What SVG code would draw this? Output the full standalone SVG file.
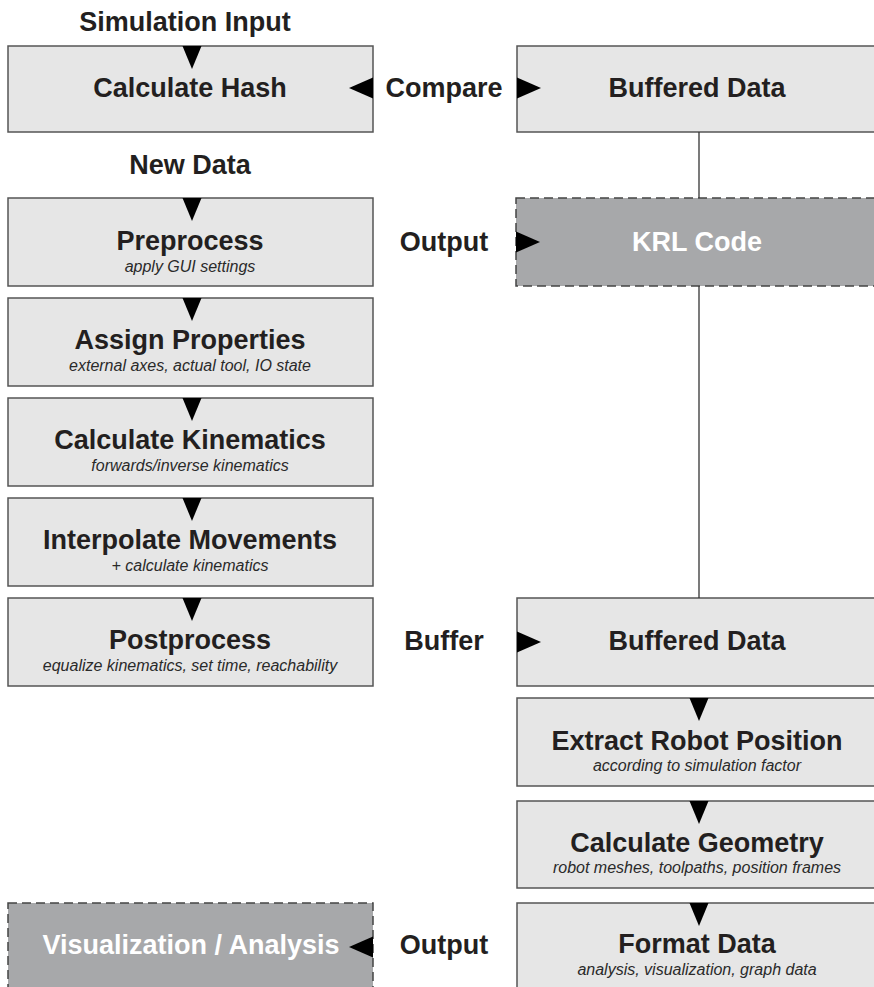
<svg xmlns="http://www.w3.org/2000/svg" width="874" height="987" viewBox="0 0 874 987">
  <style>
    .box { fill: #e6e6e6; stroke: #555; stroke-width: 1.5; }
    .out { fill: #a7a8aa; stroke: #444; stroke-width: 1.5; stroke-dasharray: 9 5; }
    .t { font-family: "Liberation Sans", Arial, Helvetica, sans-serif; font-weight: bold; font-size: 27px; fill: #231f20; text-anchor: middle; }
    .tw { fill: #ffffff; }
    .s { font-family: "Liberation Sans", Arial, Helvetica, sans-serif; font-style: italic; font-size: 16px; fill: #2a2a2a; text-anchor: middle; }
    .link { stroke: #333; stroke-width: 1.3; fill: none; }
    .head { fill: #000; }
  </style>
  <defs>
    <path id="tri-down" d="M-9.5,0 L9.5,0 L0,23 Z"/>
    <path id="tri-left" d="M0,-10.5 L0,10.5 L-24,0 Z"/>
    <path id="tri-right" d="M0,-10.5 L0,10.5 L24,0 Z"/>
  </defs>

  <rect width="874" height="987" fill="#ffffff"/>

  <!-- free labels -->
  <g id="labels">
    <text class="t" x="185" y="31">Simulation Input</text>
    <text class="t" x="190" y="174">New Data</text>
    <text class="t" x="444" y="97">Compare</text>
    <text class="t" x="444" y="251">Output</text>
    <text class="t" x="444" y="650">Buffer</text>
    <text class="t" x="444" y="954">Output</text>
  </g>

  <!-- left column -->
  <g id="calculate-hash">
    <rect class="box" x="8" y="46" width="365" height="86"/>
    <text class="t" x="190" y="97">Calculate Hash</text>
  </g>
  <g id="preprocess">
    <rect class="box" x="8" y="198" width="365" height="88"/>
    <text class="t" x="190" y="250">Preprocess</text>
    <text class="s" x="190" y="272">apply GUI settings</text>
  </g>
  <g id="assign-properties">
    <rect class="box" x="8" y="298" width="365" height="88"/>
    <text class="t" x="190" y="349">Assign Properties</text>
    <text class="s" x="190" y="371">external axes, actual tool, IO state</text>
  </g>
  <g id="calculate-kinematics">
    <rect class="box" x="8" y="398" width="365" height="88"/>
    <text class="t" x="190" y="449">Calculate Kinematics</text>
    <text class="s" x="190" y="471">forwards/inverse kinematics</text>
  </g>
  <g id="interpolate-movements">
    <rect class="box" x="8" y="498" width="365" height="88"/>
    <text class="t" x="190" y="549">Interpolate Movements</text>
    <text class="s" x="190" y="571">+ calculate kinematics</text>
  </g>
  <g id="postprocess">
    <rect class="box" x="8" y="598" width="365" height="88"/>
    <text class="t" x="190" y="649">Postprocess</text>
    <text class="s" x="190" y="671">equalize kinematics, set time, reachability</text>
  </g>
  <g id="visualization-analysis">
    <rect class="out" x="8" y="903" width="365" height="100"/>
    <text class="t tw" x="191" y="954">Visualization / Analysis</text>
  </g>

  <!-- right column -->
  <g id="buffered-data-top">
    <rect class="box" x="517" y="46" width="370" height="86"/>
    <text class="t" x="697" y="97">Buffered Data</text>
  </g>
  <g id="krl-code">
    <rect class="out" x="516" y="198" width="370" height="88"/>
    <text class="t tw" x="697" y="251">KRL Code</text>
  </g>
  <g id="buffered-data">
    <rect class="box" x="517" y="598" width="370" height="88"/>
    <text class="t" x="697" y="650">Buffered Data</text>
  </g>
  <g id="extract-robot-position">
    <rect class="box" x="517" y="698" width="370" height="88"/>
    <text class="t" x="697" y="750">Extract Robot Position</text>
    <text class="s" x="697" y="771">according to simulation factor</text>
  </g>
  <g id="calculate-geometry">
    <rect class="box" x="517" y="801" width="370" height="87"/>
    <text class="t" x="697" y="852">Calculate Geometry</text>
    <text class="s" x="697" y="873">robot meshes, toolpaths, position frames</text>
  </g>
  <g id="format-data">
    <rect class="box" x="517" y="903" width="370" height="100"/>
    <text class="t" x="697" y="953">Format Data</text>
    <text class="s" x="697" y="975">analysis, visualization, graph data</text>
  </g>

  <!-- connectors and arrowheads -->
  <g id="connectors">
    <line class="link" x1="699" y1="132" x2="699" y2="198"/>
    <line class="link" x1="699" y1="286" x2="699" y2="598"/>

    <g class="head">
      <use href="#tri-down" x="192" y="46"/>
      <use href="#tri-down" x="192" y="198"/>
      <use href="#tri-down" x="192" y="298"/>
      <use href="#tri-down" x="192" y="398"/>
      <use href="#tri-down" x="192" y="498"/>
      <use href="#tri-down" x="192" y="598"/>
      <use href="#tri-down" x="699" y="698"/>
      <use href="#tri-down" x="699" y="801"/>
      <use href="#tri-down" x="699" y="903"/>
      <use href="#tri-left" x="373" y="88"/>
      <use href="#tri-right" x="517" y="88"/>
      <use href="#tri-right" x="516" y="242"/>
      <use href="#tri-right" x="517" y="642"/>
      <use href="#tri-left" x="373" y="947"/>
    </g>
  </g>
</svg>
